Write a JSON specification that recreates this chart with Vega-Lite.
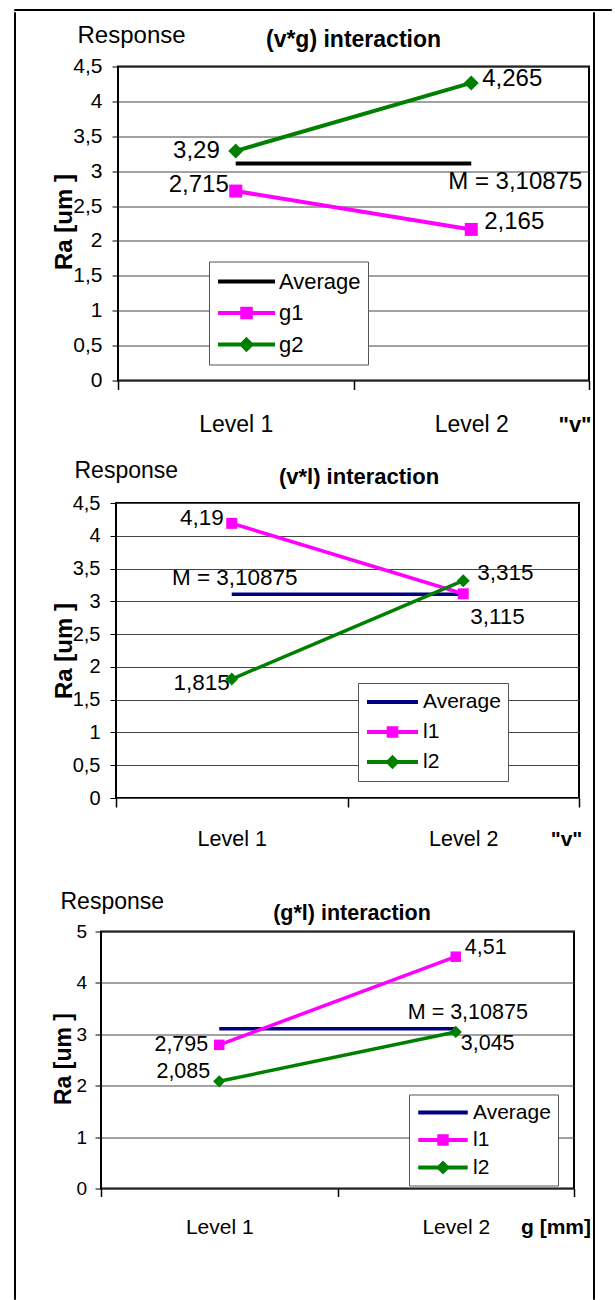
{
  "$schema": "https://vega.github.io/schema/vega-lite/v6.json",
  "padding": {"left": 13, "top": 8, "right": 0, "bottom": 0},
  "background": "white",
  "config": {
    "font": "Liberation Sans",
    "view": {"stroke": "black", "strokeWidth": 2},
    "locale": {"number": {"decimal": ",", "thousands": ".", "grouping": [3], "currency": ["", ""]}},
    "axis": {"labelColor": "black", "titleColor": "black", "tickColor": "black", "domainColor": "black", "labelFont": "Liberation Sans", "titleFont": "Liberation Sans"},
    "legend": {"labelColor": "black", "labelFont": "Liberation Sans"}
  },
  "datasets": {
    "empty": [],
    "p1": [
      {"series": "Average", "level": "Level 1", "ra": 3.10875},
      {"series": "Average", "level": "Level 2", "ra": 3.10875, "note": "M = 3,10875"},
      {"series": "g1", "level": "Level 1", "ra": 2.715},
      {"series": "g1", "level": "Level 2", "ra": 2.165},
      {"series": "g2", "level": "Level 1", "ra": 3.29},
      {"series": "g2", "level": "Level 2", "ra": 4.265}
    ],
    "p2": [
      {"series": "Average", "level": "Level 1", "ra": 3.10875, "note": "M = 3,10875"},
      {"series": "Average", "level": "Level 2", "ra": 3.10875},
      {"series": "l1", "level": "Level 1", "ra": 4.19},
      {"series": "l1", "level": "Level 2", "ra": 3.115},
      {"series": "l2", "level": "Level 1", "ra": 1.815},
      {"series": "l2", "level": "Level 2", "ra": 3.315}
    ],
    "p3": [
      {"series": "Average", "level": "Level 1", "ra": 3.10875},
      {"series": "Average", "level": "Level 2", "ra": 3.10875, "note": "M = 3,10875"},
      {"series": "l1", "level": "Level 1", "ra": 2.795},
      {"series": "l1", "level": "Level 2", "ra": 4.51},
      {"series": "l2", "level": "Level 1", "ra": 2.085},
      {"series": "l2", "level": "Level 2", "ra": 3.045}
    ]
  },
  "spacing": 0,
  "resolve": {"scale": {"x": "independent", "y": "independent", "color": "independent", "shape": "independent", "size": "independent"}, "axis": {"x": "independent", "y": "independent"}, "legend": {"color": "independent", "shape": "independent", "size": "independent"}},
  "vconcat": [
    {"width": 597, "height": 1, "view": {"stroke": "black", "strokeWidth": 1}, "data": {"name": "empty"}, "mark": "rule", "encoding": {}},
    {
      "spacing": -29.5,
      "resolve": {"scale": {"x": "independent", "y": "independent", "color": "independent", "shape": "independent", "size": "independent"}, "axis": {"x": "independent", "y": "independent"}, "legend": {"color": "independent", "shape": "independent", "size": "independent"}},
      "hconcat": [
        {
          "spacing": 34,
          "resolve": {"scale": {"x": "independent", "y": "independent", "color": "independent", "shape": "independent", "size": "independent"}, "axis": {"x": "independent", "y": "independent"}, "legend": {"color": "independent", "shape": "independent", "size": "independent"}},
          "hconcat": [
            {"width": 1, "height": 1287, "view": {"stroke": "black", "strokeWidth": 1}, "data": {"name": "empty"}, "mark": "rule", "encoding": {}},
            {
              "spacing": 9.5,
              "resolve": {"scale": {"x": "independent", "y": "independent", "color": "independent", "shape": "independent", "size": "independent"}, "axis": {"x": "independent", "y": "independent"}, "legend": {"color": "independent", "shape": "independent", "size": "independent"}},
              "vconcat": [
                {"width": 1, "height": 1, "view": {"stroke": null}, "data": {"name": "empty"}, "mark": "rule", "encoding": {}},
                {
                  "spacing": 20.5,
                  "resolve": {"scale": {"x": "independent", "y": "independent", "color": "independent", "shape": "independent", "size": "independent"}, "axis": {"x": "independent", "y": "independent"}, "legend": {"color": "independent", "shape": "independent", "size": "independent"}},
                  "vconcat": [
                    {
                      "spacing": 0,
                      "resolve": {"scale": {"x": "independent", "y": "independent", "color": "independent", "shape": "independent", "size": "independent"}, "axis": {"x": "independent", "y": "independent"}, "legend": {"color": "independent", "shape": "independent", "size": "independent"}},
                      "hconcat": [
                        {"width": 1, "height": 1, "view": {"stroke": null}, "data": {"name": "empty"}, "mark": "rule", "encoding": {}},
                        {
                          "width": 471, "height": 314,
                          "data": {"name": "p1"},
                          "resolve": {"axis": {"x": "independent", "y": "independent"}},
                          "layer": [
                            {
                              "mark": {"type": "line", "strokeWidth": 4},
                              "encoding": {
                                "x": {"field": "level", "type": "nominal", "scale": {"type": "band", "paddingInner": 0, "paddingOuter": 0},
                                  "axis": {"orient": "bottom", "title": "\"v\"", "titleX": 456.5, "titleY": 51, "titleAlign": "center", "titleBaseline": "alphabetic", "titleFontSize": 22, "titleFontWeight": "bold", "labelAngle": 0, "labelFontSize": 23, "labelBaseline": "alphabetic", "labelPadding": 42, "tickBand": "extent", "tickSize": 9, "tickWidth": 1.5, "grid": false, "domain": false}},
                                "y": {"field": "ra", "type": "quantitative", "scale": {"domain": [0, 4.5], "nice": false},
                                  "axis": {"title": "Ra [um ]", "titleX": -54, "titleY": 155, "titleAngle": 270, "titleAlign": "center", "titleBaseline": "middle", "titleFontSize": 24, "titleFontWeight": "bold", "values": [0, 0.5, 1, 1.5, 2, 2.5, 3, 3.5, 4, 4.5], "format": "~g", "labelFontSize": 21, "labelPadding": 10, "tickSize": 6, "grid": true, "gridColor": "#444444", "gridOpacity": 1, "domain": false}},
                                "color": {"field": "series", "type": "nominal", "scale": {"domain": ["Average", "g1", "g2"], "range": ["#000000", "#ff00ff", "#008000"]},
                                  "legend": {"orient": "none", "legendX": 91, "legendY": 195, "title": null, "fillColor": "white", "strokeColor": "#555555", "padding": 7, "rowPadding": 5.5, "clipHeight": 26, "symbolSize": 3249, "symbolStrokeWidth": 4, "labelFontSize": 22, "labelOffset": 2,
                                    "encode": {"symbols": {"update": {
                                      "shape": {"signal": "datum.value === 'g1' ? 'M-1,0L1,0M-0.15,-0.15L0.15,-0.15L0.15,0.15L-0.15,0.15Z' : datum.value === 'g2' ? 'M-1,0L1,0M0,-0.17L0.17,0L0,0.17L-0.17,0Z' : 'M-1,0L1,0'"},
                                      "fill": {"signal": "datum.value === 'g1' ? '#ff00ff' : datum.value === 'g2' ? '#008000' : '#000000'"},
                                      "opacity": {"value": 1}}}}}}
                              }
                            },
                            {
                              "transform": [{"filter": "datum.series != 'Average'"}],
                              "mark": {"type": "point", "filled": true, "opacity": 1},
                              "encoding": {
                                "x": {"field": "level", "type": "nominal", "axis": {"orient": "top", "title": "(v*g) interaction", "titleX": 235, "titleY": -20, "titleAngle": 0, "titleAlign": "center", "titleBaseline": "alphabetic", "titleFontSize": 23, "titleFontWeight": "bold", "labels": false, "ticks": false, "domain": false, "grid": false}},
                                "y": {"field": "ra", "type": "quantitative", "axis": null},
                                "color": {"field": "series", "type": "nominal"},
                                "shape": {"field": "series", "type": "nominal", "scale": {"domain": ["g1", "g2"], "range": ["square", "diamond"]}, "legend": null},
                                "size": {"field": "series", "type": "nominal", "scale": {"domain": ["g1", "g2"], "range": [169, 225]}, "legend": null}
                              }
                            },
                            {
                              "transform": [{"filter": "datum.series == 'g2' && datum.level == 'Level 1'"}],
                              "mark": {"type": "text", "align": "right", "baseline": "middle", "dx": -16, "dy": 0, "fontSize": 24, "color": "black"},
                              "encoding": {"x": {"field": "level", "type": "nominal", "axis": null}, "y": {"field": "ra", "type": "quantitative", "axis": null}, "text": {"field": "ra", "type": "quantitative", "format": "~g"}}
                            },
                            {
                              "transform": [{"filter": "datum.series == 'g1' && datum.level == 'Level 1'"}],
                              "mark": {"type": "text", "align": "right", "baseline": "middle", "dx": -7, "dy": -6, "fontSize": 24, "color": "black"},
                              "encoding": {"x": {"field": "level", "type": "nominal", "axis": null}, "y": {"field": "ra", "type": "quantitative", "axis": null}, "text": {"field": "ra", "type": "quantitative", "format": "~g"}}
                            },
                            {
                              "transform": [{"filter": "datum.series == 'g2' && datum.level == 'Level 2'"}],
                              "mark": {"type": "text", "align": "left", "baseline": "middle", "dx": 11, "dy": -4, "fontSize": 24, "color": "black"},
                              "encoding": {"x": {"field": "level", "type": "nominal", "axis": null}, "y": {"field": "ra", "type": "quantitative", "axis": null}, "text": {"field": "ra", "type": "quantitative", "format": "~g"}}
                            },
                            {
                              "transform": [{"filter": "datum.series == 'g1' && datum.level == 'Level 2'"}],
                              "mark": {"type": "text", "align": "left", "baseline": "middle", "dx": 13, "dy": -7, "fontSize": 24, "color": "black"},
                              "encoding": {"x": {"field": "level", "type": "nominal", "axis": null}, "y": {"field": "ra", "type": "quantitative", "axis": null}, "text": {"field": "ra", "type": "quantitative", "format": "~g"}}
                            },
                            {
                              "transform": [{"filter": "datum.note"}],
                              "mark": {"type": "text", "align": "left", "baseline": "middle", "dx": -23, "dy": 18, "fontSize": 24, "color": "black"},
                              "encoding": {"x": {"field": "level", "type": "nominal", "axis": null},
                                "y": {"field": "ra", "type": "quantitative", "axis": {"orient": "right", "title": "Response", "titleX": -512, "titleY": -24, "titleAngle": 0, "titleAlign": "left", "titleBaseline": "alphabetic", "titleFontSize": 24, "titleFontWeight": "normal", "labels": false, "ticks": false, "domain": false, "grid": false, "minExtent": 0, "maxExtent": 0}},
                                "text": {"field": "note", "type": "nominal"}}
                            }
                          ]
                        }
                      ]
                    },
                    {
                      "spacing": 38.5,
                      "resolve": {"scale": {"x": "independent", "y": "independent", "color": "independent", "shape": "independent", "size": "independent"}, "axis": {"x": "independent", "y": "independent"}, "legend": {"color": "independent", "shape": "independent", "size": "independent"}},
                      "vconcat": [
                        {
                          "spacing": 0,
                          "resolve": {"scale": {"x": "independent", "y": "independent", "color": "independent", "shape": "independent", "size": "independent"}, "axis": {"x": "independent", "y": "independent"}, "legend": {"color": "independent", "shape": "independent", "size": "independent"}},
                          "hconcat": [
                            {"width": 1, "height": 1, "view": {"stroke": null}, "data": {"name": "empty"}, "mark": "rule", "encoding": {}},
                            {
                              "width": 463, "height": 295,
                              "data": {"name": "p2"},
                              "resolve": {"axis": {"x": "independent", "y": "independent"}},
                              "layer": [
                                {
                                  "mark": {"type": "line", "strokeWidth": 3.5},
                                  "encoding": {
                                    "x": {"field": "level", "type": "nominal", "scale": {"type": "band", "paddingInner": 0, "paddingOuter": 0},
                                      "axis": {"orient": "bottom", "title": "\"v\"", "titleX": 450, "titleY": 47, "titleAlign": "center", "titleBaseline": "alphabetic", "titleFontSize": 21, "titleFontWeight": "bold", "labelAngle": 0, "labelFontSize": 21.5, "labelBaseline": "alphabetic", "labelPadding": 38, "tickBand": "extent", "tickSize": 9, "tickWidth": 1.5, "grid": false, "domain": false}},
                                    "y": {"field": "ra", "type": "quantitative", "scale": {"domain": [0, 4.5], "nice": false},
                                      "axis": {"title": "Ra [um ]", "titleX": -52, "titleY": 147.5, "titleAngle": 270, "titleAlign": "center", "titleBaseline": "middle", "titleFontSize": 24, "titleFontWeight": "bold", "values": [0, 0.5, 1, 1.5, 2, 2.5, 3, 3.5, 4, 4.5], "format": "~g", "labelFontSize": 20, "labelPadding": 10, "tickSize": 6, "grid": true, "gridColor": "#444444", "gridOpacity": 1, "domain": false}},
                                    "color": {"field": "series", "type": "nominal", "scale": {"domain": ["Average", "l1", "l2"], "range": ["#000080", "#ff00ff", "#008000"]},
                                      "legend": {"orient": "none", "legendX": 242, "legendY": 180, "title": null, "fillColor": "white", "strokeColor": "#555555", "padding": 7, "rowPadding": 6, "clipHeight": 24, "symbolSize": 2601, "symbolStrokeWidth": 4, "labelFontSize": 21, "labelOffset": 3,
                                        "encode": {"symbols": {"update": {
                                          "shape": {"signal": "datum.value === 'l1' ? 'M-1,0L1,0M-0.15,-0.15L0.15,-0.15L0.15,0.15L-0.15,0.15Z' : datum.value === 'l2' ? 'M-1,0L1,0M0,-0.17L0.17,0L0,0.17L-0.17,0Z' : 'M-1,0L1,0'"},
                                          "fill": {"signal": "datum.value === 'l1' ? '#ff00ff' : datum.value === 'l2' ? '#008000' : '#000080'"},
                                          "opacity": {"value": 1}}}}}}
                                  }
                                },
                                {
                                  "transform": [{"filter": "datum.series != 'Average'"}],
                                  "mark": {"type": "point", "filled": true, "opacity": 1},
                                  "encoding": {
                                    "x": {"field": "level", "type": "nominal", "axis": {"orient": "top", "title": "(v*l) interaction", "titleX": 242.5, "titleY": -20, "titleAngle": 0, "titleAlign": "center", "titleBaseline": "alphabetic", "titleFontSize": 22, "titleFontWeight": "bold", "labels": false, "ticks": false, "domain": false, "grid": false}},
                                    "y": {"field": "ra", "type": "quantitative", "axis": null},
                                    "color": {"field": "series", "type": "nominal"},
                                    "shape": {"field": "series", "type": "nominal", "scale": {"domain": ["l1", "l2"], "range": ["square", "diamond"]}, "legend": null},
                                    "size": {"field": "series", "type": "nominal", "scale": {"domain": ["l1", "l2"], "range": [121, 169]}, "legend": null}
                                  }
                                },
                                {
                                  "transform": [{"filter": "datum.series == 'l1' && datum.level == 'Level 1'"}],
                                  "mark": {"type": "text", "align": "right", "baseline": "middle", "dx": -8, "dy": -5, "fontSize": 22.5, "color": "black"},
                                  "encoding": {"x": {"field": "level", "type": "nominal", "axis": null}, "y": {"field": "ra", "type": "quantitative", "axis": null}, "text": {"field": "ra", "type": "quantitative", "format": "~g"}}
                                },
                                {
                                  "transform": [{"filter": "datum.series == 'l2' && datum.level == 'Level 1'"}],
                                  "mark": {"type": "text", "align": "right", "baseline": "middle", "dx": -2, "dy": 4, "fontSize": 22.5, "color": "black"},
                                  "encoding": {"x": {"field": "level", "type": "nominal", "axis": null}, "y": {"field": "ra", "type": "quantitative", "axis": null}, "text": {"field": "ra", "type": "quantitative", "format": "~g"}}
                                },
                                {
                                  "transform": [{"filter": "datum.series == 'l1' && datum.level == 'Level 2'"}],
                                  "mark": {"type": "text", "align": "left", "baseline": "middle", "dx": 7, "dy": 23, "fontSize": 22.5, "color": "black"},
                                  "encoding": {"x": {"field": "level", "type": "nominal", "axis": null}, "y": {"field": "ra", "type": "quantitative", "axis": null}, "text": {"field": "ra", "type": "quantitative", "format": "~g"}}
                                },
                                {
                                  "transform": [{"filter": "datum.series == 'l2' && datum.level == 'Level 2'"}],
                                  "mark": {"type": "text", "align": "left", "baseline": "middle", "dx": 14, "dy": -8, "fontSize": 22.5, "color": "black"},
                                  "encoding": {"x": {"field": "level", "type": "nominal", "axis": null}, "y": {"field": "ra", "type": "quantitative", "axis": null}, "text": {"field": "ra", "type": "quantitative", "format": "~g"}}
                                },
                                {
                                  "transform": [{"filter": "datum.note"}],
                                  "mark": {"type": "text", "align": "center", "baseline": "middle", "dx": 3, "dy": -16, "fontSize": 22.5, "color": "black"},
                                  "encoding": {"x": {"field": "level", "type": "nominal", "axis": null},
                                    "y": {"field": "ra", "type": "quantitative", "axis": {"orient": "right", "title": "Response", "titleX": -505, "titleY": -26, "titleAngle": 0, "titleAlign": "left", "titleBaseline": "alphabetic", "titleFontSize": 23, "titleFontWeight": "normal", "labels": false, "ticks": false, "domain": false, "grid": false, "minExtent": 0, "maxExtent": 0}},
                                    "text": {"field": "note", "type": "nominal"}}
                                }
                              ]
                            }
                          ]
                        },
                        {
                          "spacing": 0,
                          "resolve": {"scale": {"x": "independent", "y": "independent", "color": "independent", "shape": "independent", "size": "independent"}, "axis": {"x": "independent", "y": "independent"}, "legend": {"color": "independent", "shape": "independent", "size": "independent"}},
                          "hconcat": [
                            {"width": 1, "height": 1, "view": {"stroke": null}, "data": {"name": "empty"}, "mark": "rule", "encoding": {}},
                            {
                              "width": 473, "height": 257,
                              "data": {"name": "p3"},
                              "resolve": {"axis": {"x": "independent", "y": "independent"}},
                              "layer": [
                                {
                                  "mark": {"type": "line", "strokeWidth": 3.5},
                                  "encoding": {
                                    "x": {"field": "level", "type": "nominal", "scale": {"type": "band", "paddingInner": 0, "paddingOuter": 0},
                                      "axis": {"orient": "bottom", "title": "g [mm]", "titleX": 454.5, "titleY": 45, "titleAlign": "center", "titleBaseline": "alphabetic", "titleFontSize": 21, "titleFontWeight": "bold", "labelAngle": 0, "labelFontSize": 21, "labelBaseline": "alphabetic", "labelPadding": 37, "tickBand": "extent", "tickSize": 8, "tickWidth": 1.5, "grid": false, "domain": false}},
                                    "y": {"field": "ra", "type": "quantitative", "scale": {"domain": [0, 5], "nice": false},
                                      "axis": {"title": "Ra [um ]", "titleX": -37.5, "titleY": 127, "titleAngle": 270, "titleAlign": "center", "titleBaseline": "middle", "titleFontSize": 23, "titleFontWeight": "bold", "values": [0, 1, 2, 3, 4, 5], "format": "~g", "labelFontSize": 19, "labelPadding": 8.5, "tickSize": 6, "grid": true, "gridColor": "#444444", "gridOpacity": 1, "domain": false}},
                                    "color": {"field": "series", "type": "nominal", "scale": {"domain": ["Average", "l1", "l2"], "range": ["#000080", "#ff00ff", "#008000"]},
                                      "legend": {"orient": "none", "legendX": 308, "legendY": 163, "title": null, "fillColor": "white", "strokeColor": "#555555", "padding": 7, "rowPadding": 5.5, "clipHeight": 22, "symbolSize": 2450, "symbolStrokeWidth": 4, "labelFontSize": 21, "labelOffset": 3,
                                        "encode": {"symbols": {"update": {
                                          "shape": {"signal": "datum.value === 'l1' ? 'M-1,0L1,0M-0.15,-0.15L0.15,-0.15L0.15,0.15L-0.15,0.15Z' : datum.value === 'l2' ? 'M-1,0L1,0M0,-0.17L0.17,0L0,0.17L-0.17,0Z' : 'M-1,0L1,0'"},
                                          "fill": {"signal": "datum.value === 'l1' ? '#ff00ff' : datum.value === 'l2' ? '#008000' : '#000080'"},
                                          "opacity": {"value": 1}}}}}}
                                  }
                                },
                                {
                                  "transform": [{"filter": "datum.series != 'Average'"}],
                                  "mark": {"type": "point", "filled": true, "opacity": 1},
                                  "encoding": {
                                    "x": {"field": "level", "type": "nominal", "axis": {"orient": "top", "title": "(g*l) interaction", "titleX": 250.5, "titleY": -12, "titleAngle": 0, "titleAlign": "center", "titleBaseline": "alphabetic", "titleFontSize": 21.5, "titleFontWeight": "bold", "labels": false, "ticks": false, "domain": false, "grid": false}},
                                    "y": {"field": "ra", "type": "quantitative", "axis": null},
                                    "color": {"field": "series", "type": "nominal"},
                                    "shape": {"field": "series", "type": "nominal", "scale": {"domain": ["l1", "l2"], "range": ["square", "diamond"]}, "legend": null},
                                    "size": {"field": "series", "type": "nominal", "scale": {"domain": ["l1", "l2"], "range": [110, 150]}, "legend": null}
                                  }
                                },
                                {
                                  "transform": [{"filter": "datum.series == 'l1' && datum.level == 'Level 1'"}],
                                  "mark": {"type": "text", "align": "right", "baseline": "middle", "dx": -11, "dy": 0, "fontSize": 21.5, "color": "black"},
                                  "encoding": {"x": {"field": "level", "type": "nominal", "axis": null}, "y": {"field": "ra", "type": "quantitative", "axis": null}, "text": {"field": "ra", "type": "quantitative", "format": "~g"}}
                                },
                                {
                                  "transform": [{"filter": "datum.series == 'l2' && datum.level == 'Level 1'"}],
                                  "mark": {"type": "text", "align": "right", "baseline": "middle", "dx": -9, "dy": -9, "fontSize": 21.5, "color": "black"},
                                  "encoding": {"x": {"field": "level", "type": "nominal", "axis": null}, "y": {"field": "ra", "type": "quantitative", "axis": null}, "text": {"field": "ra", "type": "quantitative", "format": "~g"}}
                                },
                                {
                                  "transform": [{"filter": "datum.series == 'l1' && datum.level == 'Level 2'"}],
                                  "mark": {"type": "text", "align": "left", "baseline": "middle", "dx": 9, "dy": -9, "fontSize": 21.5, "color": "black"},
                                  "encoding": {"x": {"field": "level", "type": "nominal", "axis": null}, "y": {"field": "ra", "type": "quantitative", "axis": null}, "text": {"field": "ra", "type": "quantitative", "format": "~g"}}
                                },
                                {
                                  "transform": [{"filter": "datum.series == 'l2' && datum.level == 'Level 2'"}],
                                  "mark": {"type": "text", "align": "left", "baseline": "middle", "dx": 5, "dy": 12, "fontSize": 21.5, "color": "black"},
                                  "encoding": {"x": {"field": "level", "type": "nominal", "axis": null}, "y": {"field": "ra", "type": "quantitative", "axis": null}, "text": {"field": "ra", "type": "quantitative", "format": "~g"}}
                                },
                                {
                                  "transform": [{"filter": "datum.note"}],
                                  "mark": {"type": "text", "align": "left", "baseline": "middle", "dx": -48, "dy": -16, "fontSize": 21.5, "color": "black"},
                                  "encoding": {"x": {"field": "level", "type": "nominal", "axis": null},
                                    "y": {"field": "ra", "type": "quantitative", "axis": {"orient": "right", "title": "Response", "titleX": -514, "titleY": -23, "titleAngle": 0, "titleAlign": "left", "titleBaseline": "alphabetic", "titleFontSize": 23, "titleFontWeight": "normal", "labels": false, "ticks": false, "domain": false, "grid": false, "minExtent": 0, "maxExtent": 0}},
                                    "text": {"field": "note", "type": "nominal"}}
                                }
                              ]
                            }
                          ]
                        }
                      ]
                    }
                  ]
                }
              ]
            }
          ]
        },
        {"width": 1, "height": 1287, "view": {"stroke": "black", "strokeWidth": 1}, "data": {"name": "empty"}, "mark": "rule", "encoding": {}}
      ]
    }
  ]
}
